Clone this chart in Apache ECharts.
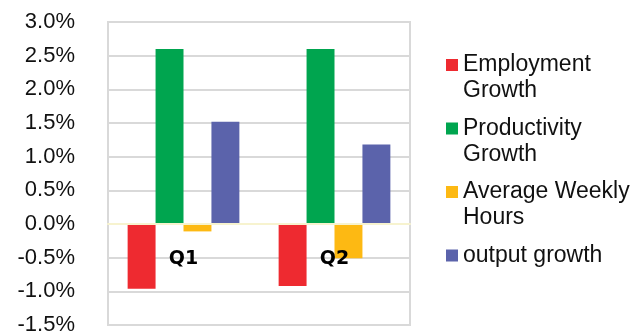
<!DOCTYPE html>
<html>
<head>
<meta charset="utf-8">
<script src="https://cdn.jsdelivr.net/npm/echarts@6/dist/echarts.min.js"></script>
<style>
  html, body { margin: 0; padding: 0; background: #fff; }
  #chart { width: 640px; height: 334px; }
</style>
</head>
<body>
<div id="chart"></div>
<script>
// Quarterly decomposition of output growth (percent)
const quarters = ['Q1', 'Q2'];
const seriesNames = ['Employment\nGrowth', 'Productivity\nGrowth', 'Average Weekly\nHours', 'output growth'];
const employmentGrowth = [-0.96, -0.92];
const productivityGrowth = [2.6, 2.6];
const averageWeeklyHours = [-0.11, -0.51];
const outputGrowth = [1.52, 1.18];
const seriesColors = ['#ee2a30', '#00a54f', '#fdb913', '#5b63ab'];
const yMin = -1.5, yMax = 3, yStep = 0.5;

const values = [employmentGrowth, productivityGrowth, averageWeeklyHours, outputGrowth];

const gridTop = 22, gridHeight = 303;
// distance from the bottom of the plot up to the zero line
const zeroFromBottom = gridHeight * (0 - yMin) / (yMax - yMin);

const chart = echarts.init(document.getElementById('chart'), null, { renderer: 'canvas' });

const textFont = 'Liberation Sans, Arial, sans-serif';

chart.setOption({
  animation: false,
  backgroundColor: '#ffffff',
  grid: {
    left: 108, top: gridTop, width: 302, height: gridHeight,
    outerBoundsMode: 'none',
    containLabel: false,
    show: true, borderColor: '#d9d9d9', borderWidth: 2, backgroundColor: 'transparent'
  },
  legend: {
    orient: 'vertical',
    left: 446,
    top: 26,
    padding: 0,
    itemWidth: 12,
    itemHeight: 12,
    itemGap: -14.5,
    icon: 'rect',
    textStyle: { fontFamily: textFont, fontSize: 23, color: '#111', lineHeight: 26 },
    // pad each entry to three lines so the swatch lines up with the first text line
    formatter: function (name) {
      const lines = name.split('\n');
      return ' \n' + lines.join('\n') + (lines.length < 2 ? '\n ' : '');
    },
    data: seriesNames
  },
  xAxis: {
    type: 'category',
    data: quarters,
    position: 'bottom',
    offset: -zeroFromBottom,
    z: 5,
    axisLine: { onZero: false, lineStyle: { color: '#f7f3cf', width: 2 } },
    axisTick: { show: false },
    axisLabel: {
      margin: 26,
      fontFamily: 'DejaVu Sans, Verdana, sans-serif',
      fontWeight: 'bold',
      fontSize: 19,
      color: '#000'
    },
    splitLine: { show: false }
  },
  yAxis: {
    type: 'value',
    min: yMin,
    max: yMax,
    interval: yStep,
    axisLine: { show: false },
    axisTick: { show: false },
    axisLabel: {
      margin: 33,
      fontFamily: textFont,
      fontSize: 22,
      color: '#111',
      formatter: function (v) { return v.toFixed(1) + '%'; }
    },
    splitLine: { lineStyle: { color: '#d9d9d9', width: 2 } }
  },
  series: seriesNames.map(function (name, i) {
    return {
      name: name,
      type: 'bar',
      data: values[i],
      barGap: '0%',
      barCategoryGap: '26%',
      itemStyle: { color: seriesColors[i] }
    };
  })
});
</script>
</body>
</html>
